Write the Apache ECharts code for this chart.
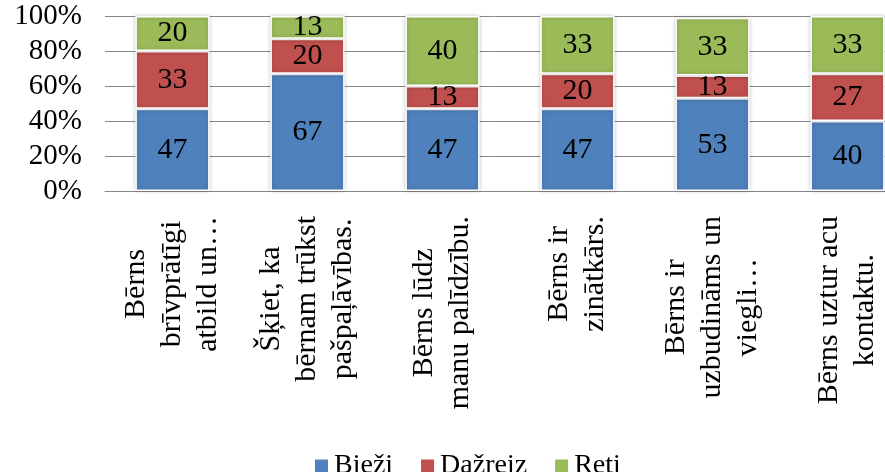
<!DOCTYPE html>
<html>
<head>
<meta charset="utf-8">
<script src="https://cdn.jsdelivr.net/npm/echarts@6/dist/echarts.min.js"></script>
<style>
html,body{margin:0;padding:0;background:#fff;overflow:hidden;}
#chart{width:885px;height:472px;}
</style>
</head>
<body>
<div id="chart"></div>
<script>
var categories = [
  "Bērns\nbrīvprātīgi\natbild un…",
  "Šķiet, ka\nbērnam trūkst\npašpaļāvības.",
  "Bērns lūdz\nmanu palīdzību.",
  "Bērns ir\nzinātkārs.",
  "Bērns ir\nuzbudināms un\nviegli…",
  "Bērns uztur acu\nkontaktu."
];
var seriesNames = ["Bieži", "Dažreiz", "Reti"];
var biezi   = [47, 67, 47, 47, 53, 40];
var dazreiz = [33, 20, 13, 20, 13, 27];
var reti    = [20, 13, 40, 33, 33, 33];
var yTicks = [0, 20, 40, 60, 80, 100];

var FONT = "'Liberation Serif', 'Times New Roman', serif";
var colors = ["#4F81BD", "#C0504D", "#9BBB59"];

function mk(name, data, color) {
  return {
    name: name,
    type: 'bar',
    stack: 'total',
    barWidth: '55%',
    data: data,
    itemStyle: {
      color: color,
      borderColor: '#ffffff',
      borderWidth: 1.5,
      shadowColor: 'rgba(0,0,0,0.22)',
      shadowBlur: 4
    },
    label: {
      show: true,
      position: 'inside',
      color: '#000',
      fontFamily: FONT,
      fontSize: 30
    }
  };
}

var chart = echarts.init(document.getElementById('chart'), null, {renderer: 'canvas'});
chart.setOption({
  animation: false,
  color: colors,
  grid: {
    left: 105, right: -30, top: 16, bottom: 281,
    containLabel: false, outerBoundsMode: 'none'
  },
  legend: {
    left: 308, top: 447,
    itemWidth: 15, itemHeight: 15, itemGap: 26,
    icon: 'rect',
    data: seriesNames,
    textStyle: {fontFamily: FONT, fontSize: 28, color: '#000'}
  },
  xAxis: {
    type: 'category',
    data: categories,
    axisLine: {show: true, lineStyle: {color: '#888888', width: 1}},
    axisTick: {show: false},
    axisLabel: {
      interval: 0,
      rotate: 90,
      margin: 25,
      color: '#000',
      fontFamily: FONT,
      fontSize: 30,
      lineHeight: 36,
      formatter: function (v) {
        return v.split('\n').map(function (s) { return '{c|' + s + '}'; }).join('\n');
      },
      rich: {
        c: {align: 'center', fontFamily: FONT, fontSize: 30, lineHeight: 36, color: '#000'}
      }
    }
  },
  yAxis: {
    type: 'value',
    min: yTicks[0], max: yTicks[yTicks.length - 1], interval: 20,
    axisLine: {show: false},
    axisTick: {show: false},
    splitLine: {show: true, lineStyle: {color: '#888888', width: 1}},
    axisLabel: {
      margin: 23,
      color: '#000',
      fontFamily: FONT,
      fontSize: 29,
      formatter: '{value}%'
    }
  },
  series: [
    mk(seriesNames[0], biezi, colors[0]),
    mk(seriesNames[1], dazreiz, colors[1]),
    mk(seriesNames[2], reti, colors[2])
  ]
});
</script>
</body>
</html>
